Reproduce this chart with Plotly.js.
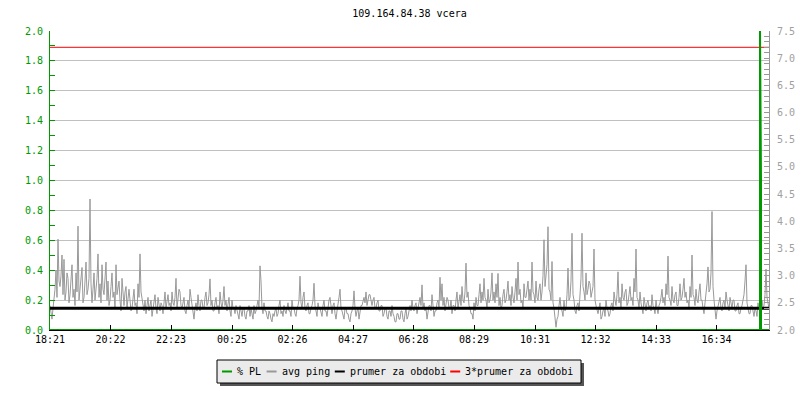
<!DOCTYPE html>
<html>
<head>
<meta charset="utf-8">
<script src="https://cdn.plot.ly/plotly-3.0.1.min.js"></script>
<style>html,body{margin:0;padding:0;background:#fff;}#chart{width:800px;height:400px;}</style>
</head>
<body>
<div id="chart"></div>
<script>
// ---- data ----
const chartTitle = '109.164.84.38 vcera';
const tickMinutes = [0, 121, 242, 364, 485, 606, 727, 848, 970, 1091, 1212, 1333];
const tickLabels = ['18:21', '20:22', '22:23', '00:25', '02:26', '04:27', '06:28', '08:29', '10:31', '12:32', '14:33', '16:34'];
const seriesNames = ['% PL', 'avg ping', 'prumer za obdobi', '3*prumer za obdobi'];
const seriesColors = ['#009900', '#999999', '#000000', '#ff0000'];

// avg ping samples, one every 2 minutes starting 18:21 (right axis)
const pingStepMin = 2;
const pingAvg = [
2.45,2.30,2.20,2.40,2.55,2.75,3.10,2.60,3.67,2.90,2.80,3.00,3.38,2.65,3.30,2.55,2.70,3.05,2.95,2.50,2.65,2.85,3.20,2.60,2.75,2.45,3.05,2.70,3.91,2.55,2.80,2.95,3.15,2.50,2.60,2.90,3.25,2.65,2.75,2.95,
4.41,2.85,2.50,2.75,3.05,2.55,2.70,2.95,3.40,2.60,2.85,2.50,3.20,2.75,2.65,3.00,3.25,2.55,2.90,2.45,2.55,2.80,3.05,2.60,2.70,2.40,3.20,2.65,2.75,2.90,2.55,2.35,2.95,2.60,2.45,2.70,2.80,2.40,2.60,2.75,
2.55,2.35,2.40,2.65,2.75,2.45,2.50,2.30,2.85,2.60,3.40,2.70,2.55,2.40,2.35,2.55,2.30,2.45,2.60,2.35,2.45,2.55,2.25,2.40,2.50,2.65,2.40,2.30,2.60,2.45,2.35,2.50,2.45,2.30,2.55,2.70,2.40,2.55,2.65,2.45,
2.50,2.35,2.70,2.50,2.45,2.60,2.95,2.40,2.55,2.75,2.70,2.45,2.40,2.55,2.60,2.35,2.30,2.45,2.55,2.40,2.75,2.60,2.45,2.30,2.20,2.40,2.50,2.35,2.65,2.45,2.35,2.55,2.55,2.40,2.40,2.60,2.70,2.45,2.50,2.65,
2.94,2.45,2.55,2.35,2.35,2.50,2.60,2.40,2.45,2.30,2.70,2.50,2.40,2.55,2.80,2.45,2.55,2.35,2.45,2.60,2.35,2.25,2.55,2.40,2.40,2.30,2.45,2.35,2.30,2.20,2.45,2.35,2.25,2.40,2.40,2.25,2.20,2.35,2.35,2.45,
2.25,2.40,2.30,2.20,2.45,2.30,2.35,2.50,2.55,2.40,3.18,2.90,2.40,2.30,2.50,2.35,2.35,2.25,2.20,2.35,2.30,2.20,2.15,2.30,2.25,2.35,2.40,2.25,2.30,2.45,2.55,2.30,2.35,2.25,2.45,2.35,2.30,2.40,2.50,2.35,
2.35,2.25,2.55,2.40,2.40,2.30,2.25,2.40,2.45,2.55,2.99,2.50,2.40,2.60,2.70,2.40,2.35,2.45,2.50,2.30,2.30,2.40,2.45,2.55,2.86,2.45,2.35,2.25,2.50,2.40,2.40,2.30,2.25,2.45,2.55,2.35,2.35,2.25,2.45,2.55,
2.60,2.40,2.30,2.45,2.50,2.30,2.20,2.35,2.45,2.60,2.75,2.40,2.35,2.25,2.20,2.40,2.40,2.30,2.30,2.20,2.15,2.30,2.35,2.45,2.72,2.40,2.25,2.35,2.40,2.20,2.30,2.45,2.45,2.55,2.60,2.50,2.70,2.45,2.55,2.65,
2.65,2.50,2.45,2.55,2.60,2.40,2.40,2.50,2.55,2.35,2.35,2.45,2.45,2.25,2.30,2.40,2.40,2.25,2.20,2.35,2.35,2.25,2.45,2.30,2.25,2.15,2.15,2.30,2.30,2.20,2.20,2.35,2.35,2.20,2.15,2.30,2.40,2.20,2.25,2.35,
2.45,2.35,2.55,2.40,2.35,2.45,2.50,2.30,2.40,2.55,2.60,2.45,2.83,2.40,2.50,2.35,2.40,2.20,2.30,2.45,2.45,2.35,2.65,2.40,2.25,2.35,2.35,2.50,2.55,2.40,2.97,2.55,2.85,2.45,2.60,2.35,2.45,2.60,2.55,2.40,
2.40,2.55,2.30,2.45,2.45,2.35,2.55,2.70,2.40,2.50,2.65,2.45,2.80,2.55,2.50,2.70,3.23,2.60,2.70,2.45,2.40,2.30,2.30,2.20,2.50,2.35,2.60,2.45,2.45,2.65,2.85,2.50,2.70,2.55,2.95,2.60,2.55,2.40,2.75,2.50,
2.55,2.70,3.05,2.55,2.70,2.50,2.85,2.60,3.04,2.45,2.60,2.40,2.45,2.65,2.75,2.50,2.55,2.70,2.90,2.55,2.65,2.45,2.80,2.60,2.50,2.70,2.95,2.55,3.25,2.65,2.75,2.50,2.55,2.40,2.85,2.60,2.60,2.75,2.90,2.55,
2.75,2.55,3.25,2.70,2.65,2.50,2.90,2.60,2.55,2.75,2.85,2.55,2.70,3.00,3.66,2.80,2.95,3.20,3.90,2.75,2.70,2.55,3.26,2.50,2.40,2.15,2.05,2.20,2.25,2.45,2.60,2.40,2.35,2.25,2.55,2.35,2.40,2.65,3.14,2.55,
2.60,2.90,3.78,2.65,2.55,2.35,2.30,2.45,2.50,2.35,2.65,2.95,3.78,2.80,2.70,2.55,3.05,2.65,2.75,2.90,2.85,2.60,2.70,2.80,3.49,2.55,2.45,2.35,2.30,2.40,2.50,2.20,2.25,2.35,2.40,2.25,2.55,2.40,2.35,2.25,
2.30,2.45,2.50,2.35,2.70,2.55,2.45,2.65,3.07,2.50,2.60,2.40,2.85,2.60,2.55,2.70,2.75,2.45,2.50,2.65,2.80,2.55,2.60,2.45,2.95,2.70,3.49,2.60,2.55,2.40,2.70,2.50,2.40,2.30,2.60,2.45,2.35,2.50,2.55,2.40,
2.45,2.35,2.65,2.45,2.40,2.30,2.55,2.40,2.30,2.45,2.50,2.60,2.75,2.50,2.60,2.45,2.85,2.65,3.36,2.60,2.55,2.45,2.80,2.55,2.50,2.65,2.70,2.45,2.45,2.60,2.85,2.55,2.60,2.75,2.95,2.60,2.70,2.50,2.55,2.40,
2.80,2.60,3.38,2.65,2.60,2.45,2.75,2.55,2.50,2.70,2.85,2.55,2.55,2.40,2.30,2.50,2.65,2.85,3.16,2.70,2.75,3.05,4.18,2.80,2.55,2.40,2.20,2.35,2.45,2.55,2.60,2.40,2.35,2.50,2.55,2.40,2.70,2.55,2.45,2.35,
2.60,2.45,2.40,2.55,2.55,2.35,2.35,2.45,2.50,2.30,2.30,2.40,2.45,2.55,2.65,2.90,3.20,2.50,2.40,2.30,2.30,2.45,2.45,2.35,2.25,2.40,2.35,2.25,2.50,2.40,2.30,2.45,2.55,2.40,2.45,2.65,3.12,2.60,2.50,2.40
];
const pingTimes = pingAvg.map((v, i) => i * pingStepMin);

// packet loss (left axis): zero except one burst near the end
const plTimes = [0, 1420, 1420, 1422, 1422, 1438];
const plValues = [0, 0, 2.0, 1.0, 0, 0];

// period average (right axis)
const periodMean = 2.40;
const periodSpan = [0, 1438];
const meanMultiplier = 3;

// ---- geometry helpers (pixel -> paper) ----
const M = {l: 50, r: 31, t: 31, b: 70};
const W = 800, H = 400;
const PW = W - M.l - M.r, PH = H - M.t - M.b;
const px = x => (x - M.l) / PW;
const py = y => (H - M.b - y) / PH;

const mono = 'DejaVu Sans Mono, Liberation Mono, monospace';

const traces = [
  {x: pingTimes, y: pingAvg, yaxis: 'y', type: 'scatter', mode: 'lines', name: seriesNames[1],
   line: {color: seriesColors[1], width: 1}, hoverinfo: 'skip'},
  {x: periodSpan, y: periodSpan.map(() => periodMean), yaxis: 'y', type: 'scatter', mode: 'lines', name: seriesNames[2],
   line: {color: seriesColors[2], width: 3}, hoverinfo: 'skip'},
  {x: periodSpan, y: periodSpan.map(() => periodMean * meanMultiplier), yaxis: 'y', type: 'scatter', mode: 'lines', name: seriesNames[3],
   line: {color: seriesColors[3], width: 1}, hoverinfo: 'skip'},
  {x: plTimes, y: plValues, yaxis: 'y2', type: 'scatter', mode: 'lines', name: seriesNames[0],
   line: {color: seriesColors[0], width: 2}, hoverinfo: 'skip'}
];

// ---- custom legend (boxed legend with small line samples and a drop shadow) ----
const shapes = [];
const annotations = [];
const legBox = {x0: 217, x1: 581, y0: 360, y1: 383};
shapes.push({type: 'rect', xref: 'paper', yref: 'paper', x0: px(legBox.x0 + 3), x1: px(legBox.x1 + 3), y0: py(legBox.y0 + 3), y1: py(legBox.y1 + 3),
  fillcolor: '#555555', line: {width: 0}});
shapes.push({type: 'rect', xref: 'paper', yref: 'paper', x0: px(legBox.x0), x1: px(legBox.x1), y0: py(legBox.y0), y1: py(legBox.y1),
  fillcolor: '#ebebeb', line: {color: '#000000', width: 1}});
let lx = 222;
const ly = 371.5;
seriesNames.forEach((name, i) => {
  shapes.push({type: 'line', xref: 'paper', yref: 'paper', x0: px(lx), x1: px(lx + 10), y0: py(ly), y1: py(ly),
    line: {color: seriesColors[i], width: 2}});
  annotations.push({xref: 'paper', yref: 'paper', x: px(lx + 13), y: py(ly), xanchor: 'left', yanchor: 'middle',
    text: name, showarrow: false, font: {family: mono, size: 10, color: '#000000'}});
  lx = lx + 15 + name.length * 5.9 + 6;
});

const layout = {
  width: W, height: H,
  margin: M,
  paper_bgcolor: '#ffffff', plot_bgcolor: '#ffffff',
  showlegend: false,
  title: {text: chartTitle, font: {family: mono, size: 10, color: '#000000'},
    xref: 'paper', x: 0.5, xanchor: 'center', yref: 'container', y: 1 - 13 / H, yanchor: 'middle'},
  xaxis: {
    range: periodSpan, tickmode: 'array', tickvals: tickMinutes, ticktext: tickLabels,
    ticks: 'inside', ticklen: 5, tickcolor: '#000000', tickwidth: 1,
    showline: true, linecolor: '#000000', linewidth: 1,
    showgrid: false, zeroline: false, fixedrange: true,
    tickfont: {family: mono, size: 10, color: '#000000'}
  },
  yaxis: {
    side: 'right', range: [2, 7.5], dtick: 0.5, tick0: 2, tickformat: '.1f',
    ticks: 'inside', ticklen: 5, tickcolor: '#999999',
    minor: {ticks: 'inside', ticklen: 5, dtick: 0.1, tickcolor: '#999999', showgrid: false},
    showline: true, linecolor: '#999999', linewidth: 1,
    showgrid: false, zeroline: false, fixedrange: true,
    ticklabelstandoff: 5,
    tickfont: {family: mono, size: 10, color: '#a0a0a0'}
  },
  yaxis2: {
    overlaying: 'y', side: 'left', range: [0, 2], dtick: 0.2, tick0: 0, tickformat: '.1f',
    ticks: 'inside', ticklen: 5, tickcolor: '#009900',
    minor: {ticks: 'inside', ticklen: 5, dtick: 0.1, tickcolor: '#009900', showgrid: false},
    showline: true, linecolor: '#009900', linewidth: 1,
    showgrid: true, gridcolor: '#c0c0c0', gridwidth: 1,
    zeroline: false, fixedrange: true,
    ticklabelstandoff: 4,
    tickfont: {family: mono, size: 10, color: '#009900'}
  },
  shapes: shapes,
  annotations: annotations
};

Plotly.newPlot('chart', traces, layout, {staticPlot: true, displayModeBar: false});
</script>
</body>
</html>
